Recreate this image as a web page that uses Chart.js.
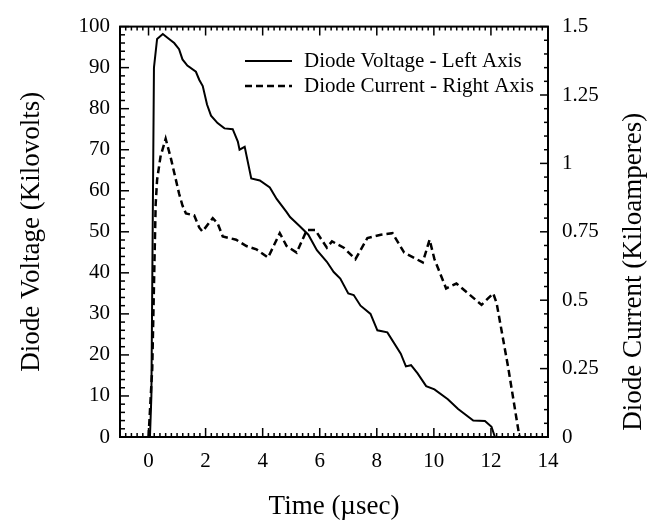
<!DOCTYPE html>
<html>
<head>
<meta charset="utf-8">
<script src="https://cdn.jsdelivr.net/npm/chart.js@4/dist/chart.umd.min.js"></script>
<style>
html,body{margin:0;padding:0;background:#fff;}
#wrap{width:662px;height:520px;position:relative;}
</style>
</head>
<body>
<div id="wrap"><canvas id="c" width="662" height="520"></canvas></div>
<script>
// ---- data ----
const timeV = [0.05,0.1,0.19,0.3,0.5,0.72,0.9,1.07,1.19,1.36,1.66,1.78,1.9,2.05,2.19,2.42,2.66,2.95,3.13,3.19,3.37,3.6,3.9,4.25,4.49,4.84,4.96,5.31,5.6,5.9,6.25,6.49,6.72,7.0,7.19,7.43,7.78,8.02,8.37,8.84,9.02,9.2,9.43,9.73,10.02,10.49,10.85,11.38,11.79,12.02,12.14];
const voltage = [0,10,90,97,98.2,97,96,94.5,92,90.5,89,87,85.5,81,78.3,76.5,75.2,75,72,70,70.7,63,62.5,60.8,58,54.8,53.6,51.3,49.3,45.5,42.7,40.2,38.6,35,34.6,32,30,26,25.5,20.3,17.2,17.5,15.5,12.4,11.6,9.2,6.8,4,3.9,2.5,0];
const timeI = [0.0,0.13,0.25,0.3,0.42,0.6,0.78,1.07,1.19,1.31,1.6,1.78,1.89,2.25,2.42,2.6,3.07,3.43,3.78,4.19,4.6,4.84,5.19,5.55,5.84,6.25,6.43,6.84,7.25,7.67,8.14,8.55,8.96,9.61,9.85,10.02,10.43,10.79,11.2,11.67,12.08,12.2,12.61,13.0];
const current = [0,0.25,0.85,0.94,1.025,1.09,1.02,0.89,0.846,0.817,0.81,0.765,0.751,0.8,0.781,0.733,0.721,0.698,0.686,0.656,0.745,0.698,0.674,0.757,0.757,0.692,0.715,0.692,0.65,0.727,0.739,0.745,0.674,0.638,0.721,0.65,0.543,0.561,0.525,0.483,0.525,0.489,0.251,0];
const xTicks = [0,2,4,6,8,10,12,14];
const yTicks = [0,10,20,30,40,50,60,70,80,90,100];
const y1Ticks = [0,0.25,0.5,0.75,1,1.25,1.5];
const seriesLabels = ['Diode Voltage - Left Axis','Diode Current - Right Axis'];
const axisTitles = {x:'Time (\u00B5sec)', y:'Diode Voltage (Kilovolts)', y1:'Diode Current (Kiloamperes)'};

const FONT = '"Liberation Serif", "Times New Roman", serif';

const framePlugin = {
  id:'frame',
  afterDraw(chart){
    const {ctx, chartArea:a, scales} = chart;
    const sx = scales.x, sy = scales.y, sy1 = scales.y1;
    ctx.save();
    ctx.strokeStyle = '#000';
    ctx.lineWidth = 1.5;
    function tickX(v, len){
      const p = sx.getPixelForValue(v);
      ctx.beginPath(); ctx.moveTo(p, a.bottom); ctx.lineTo(p, a.bottom - len);
      ctx.moveTo(p, a.top); ctx.lineTo(p, a.top + len); ctx.stroke();
    }
    for (let i = -5; i <= 70; i++){ const v = i*0.2; tickX(v, (i%10===0)?9:4); }
    for (let i = 0; i <= 50; i++){ const v = i*2; const p = sy.getPixelForValue(v);
      ctx.beginPath(); ctx.moveTo(a.left, p); ctx.lineTo(a.left + ((i%5===0)?9:5), p); ctx.stroke(); }
    for (let i = 0; i <= 30; i++){ const v = i*0.05; const p = sy1.getPixelForValue(v);
      ctx.beginPath(); ctx.moveTo(a.right, p); ctx.lineTo(a.right - ((i%5===0)?8:4), p); ctx.stroke(); }
    ctx.lineWidth = 2;
    ctx.strokeRect(a.left, a.top, a.right - a.left, a.bottom - a.top);
    // right axis title (reads bottom to top)
    ctx.fillStyle = '#000';
    ctx.font = '27px ' + FONT;
    ctx.textAlign = 'center'; ctx.textBaseline = 'middle';
    ctx.translate(634, (a.top + a.bottom)/2 + 40);
    ctx.rotate(-Math.PI/2);
    ctx.fillText(axisTitles.y1, 0, 0);
    ctx.restore();
    // legend
    ctx.save();
    ctx.font = '21px ' + FONT;
    ctx.fillStyle = '#000';
    ctx.textAlign = 'left'; ctx.textBaseline = 'middle';
    const rows = [61, 86];
    chart.data.datasets.forEach((ds, i) => {
      const y = rows[i];
      ctx.strokeStyle = '#000';
      ctx.lineWidth = ds.borderWidth;
      ctx.setLineDash(ds.borderDash || []);
      ctx.beginPath(); ctx.moveTo(245, y); ctx.lineTo(292, y); ctx.stroke();
      ctx.setLineDash([]);
      ctx.fillText(ds.label, 304, y);
    });
    ctx.restore();
  }
};

new Chart(document.getElementById('c'), {
  type:'line',
  data:{
    datasets:[
      {label:seriesLabels[0], data:timeV.map((t,i)=>({x:t,y:voltage[i]})), yAxisID:'y',
       borderColor:'#000', borderWidth:2, pointRadius:0, tension:0, fill:false},
      {label:seriesLabels[1], data:timeI.map((t,i)=>({x:t,y:current[i]})), yAxisID:'y1',
       borderColor:'#000', borderWidth:2.5, borderDash:[7,4], pointRadius:0, tension:0, fill:false}
    ]
  },
  options:{
    responsive:false, animation:false, devicePixelRatio:1,
    layout:{padding:{top:17,left:0,right:0,bottom:0}},
    plugins:{legend:{display:false}, tooltip:{enabled:false}},
    scales:{
      x:{type:'linear', min:-1, max:14,
         afterBuildTicks:s=>{ s.ticks = xTicks.map(v=>({value:v})); },
         afterFit:s=>{ s.height = 83; },
         grid:{display:false, drawTicks:false}, border:{display:false},
         ticks:{color:'#000', font:{family:FONT, size:21}, padding:12, maxRotation:0, autoSkip:false},
         title:{display:true, text:axisTitles.x, color:'#000', font:{family:FONT, size:27, lineHeight:1}, padding:{top:0,bottom:0}}},
      y:{type:'linear', position:'left', min:0, max:100,
         afterBuildTicks:s=>{ s.ticks = yTicks.map(v=>({value:v})); },
         afterFit:s=>{ s.width = 120; },
         grid:{display:false, drawTicks:false}, border:{display:false},
         ticks:{color:'#000', font:{family:FONT, size:21}, padding:10, autoSkip:false},
         title:{display:true, text:axisTitles.y, color:'#000', font:{family:FONT, size:27, lineHeight:1}, padding:{top:18,bottom:0}}},
      y1:{type:'linear', position:'right', min:0, max:1.5,
         afterBuildTicks:s=>{ s.ticks = y1Ticks.map(v=>({value:v})); },
         afterFit:s=>{ s.width = 114; },
         grid:{display:false, drawTicks:false}, border:{display:false},
         ticks:{color:'#000', font:{family:FONT, size:21}, padding:14, autoSkip:false, callback:v=>String(v)},
         title:{display:false}}
    }
  },
  plugins:[framePlugin]
});
</script>
</body>
</html>
